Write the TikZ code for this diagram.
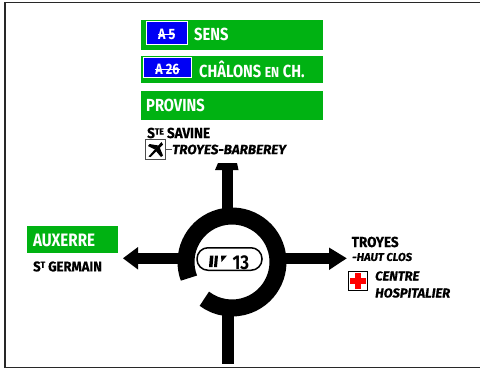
\documentclass[tikz,border=0pt]{standalone}
\usepackage{fontspec}
\setmainfont{Fira Sans}[BoldFeatures={FakeBold=0.5},BoldItalicFeatures={FakeBold=0.5}]
\newfontfamily\cfont[FakeStretch=0.84]{Fira Sans}
\newfontfamily\mfont[FakeStretch=0.93,BoldFeatures={FakeBold=0.5}]{Fira Sans}
\definecolor{signgreen}{RGB}{0,178,18}
\definecolor{signblue}{RGB}{0,0,245}
\definecolor{borderc}{RGB}{40,40,40}
\tikzset{
 x=1pt,y=-1pt,
 panel/.style={fill=signgreen,draw=none},
 lbl/.style={inner sep=0pt,anchor=west,font=\mfont\fontsize{14.5}{14.5}\selectfont\bfseries},
 wlbl/.style={inner sep=0pt,anchor=west,text=white,font=\cfont\fontsize{17.5}{17.5}\selectfont\bfseries},
 ital/.style={inner sep=0pt,anchor=west,font=\fontsize{13}{17}\selectfont\bfseries\itshape,align=left},
 motorway/.style={fill=signblue,draw=white,line width=0.9pt,inner sep=0pt},
 mtext/.style={text=white,inner sep=0pt,font=\cfont\fontsize{15}{15}\selectfont\bfseries},
 ring/.style={line width=17pt,draw=black,line cap=butt},
 road/.style={fill=black,draw=none},
}
\begin{document}
\begin{tikzpicture}
\useasboundingbox (0,0) rectangle (480,370);
\fill[white] (0,0) rectangle (480,370);
\draw[borderc,line width=1.5pt] (490,2.5) -- (5,2.5) -- (5,367.5) -- (490,367.5);
% green panels
\fill[panel] (141,20) rectangle (323,50);
\fill[panel] (141,56) rectangle (323,83);
\fill[panel] (141,91) rectangle (323,120);
\fill[panel] (27,226) rectangle (118,253);
\node[motorway,minimum width=41pt,minimum height=23pt] (a5) at (166.5,32.5) {};
\node[motorway,minimum width=48pt,minimum height=20pt] (a26) at (167.5,67.3) {};
\node[mtext] (a5t) at (166.7,34) {A 5};
\node[mtext] (a26t) at (167.5,69) {A 26};
\draw[white,line width=0.7pt] (a5t.west) -- (a5t.east);
\draw[white,line width=0.7pt] (a26t.west) -- (a26t.east);
\node[wlbl] (sens) at (194,34) {SENS};
\node[wlbl] (chal) at (199,69) {CHÂLONS {\fontsize{14.5}{14.5}\selectfont EN} CH.};
\node[wlbl] (prov) at (146,105.5) {PROVINS};
\node[wlbl,font=\cfont\fontsize{18}{18}\selectfont\bfseries] (aux) at (33,240) {AUXERRE};
% labels
\node[lbl] (sav) at (147,133) {S\raisebox{3.5pt}{\fontsize{9}{9}\selectfont TE} SAVINE};
\node[draw=black!70,line width=1pt,fill=white,minimum size=20pt,inner sep=0pt] (plane) at (155.5,149.5) {};
\begin{scope}[shift={(plane.center)}]
 \fill[black] (-7,7) -- (-5,7.5) -- (7.5,-5) -- (6,-7.5) -- cycle;
 \fill[black] (-7.5,-3.5) -- (-6,-5.5) -- (3,-4) -- (-0.5,0) -- cycle;
 \fill[black] (0.5,1.5) -- (5.5,7.5) -- (7.5,6) -- (4,-2.5) -- cycle;
\end{scope}
\node[ital,font=\fontsize{13.5}{13.5}\selectfont\bfseries\itshape] (bar) at (172,149.5) {TROYES-BARBEREY};
\draw[black!70,line width=0.6pt] (plane.east) -- (bar.west);
\node[lbl,font=\mfont\fontsize{14}{14}\selectfont\bfseries] (germ) at (33,266.5) {S\raisebox{3.5pt}{\fontsize{9}{9}\selectfont T} GERMAIN};
\node[lbl] (troy) at (351.5,242) {TROYES};
\node[ital,font=\fontsize{11.3}{11.3}\selectfont\bfseries\itshape] (haut) at (352,257) {-HAUT CLOS};
\node[ital] (centre) at (375,284.5) {CENTRE\\HOSPITALIER};
\node[draw=black,line width=1.2pt,fill=white,minimum size=19.5pt,inner sep=0pt] (cross) at (358,281) {};
\fill[red] (355,273) rectangle (361,288.5);
\fill[red] (350,278) rectangle (366,284.3);
% roads
\coordinate (c) at (232,262);
\fill[road] (221.7,215) rectangle (233.3,170);
\fill[road] (215,170) -- (218,163) -- (237,163) -- (238.5,170) -- cycle;
\fill[road] (222,305) rectangle (234,364);
\fill[road] (185,252.7) rectangle (138,264);
\fill[road] (138,247) -- (123,258.3) -- (138,269.5) -- cycle;
\fill[road] (280,252.7) rectangle (329,264);
\fill[road] (329,247.5) -- (346.7,258.3) -- (329,270) -- cycle;
% ring
\draw[ring] (c) ++(159.5:46) arc[start angle=159.5,end angle=487,radius=46];
% route plate
\node[draw=black,line width=1.5pt,fill=white,rounded corners=11pt,minimum width=65pt,minimum height=22.5pt,inner sep=0pt] (plate) at (229.5,259) {};
\fill[black] (210,255.5) -- (213.5,255.5) -- (212.5,267) -- (209,267) -- cycle;
\fill[black] (215,255.5) -- (218,255.5) -- (217,267) -- (214,267) -- cycle;
\fill[black] (221,255.5) -- (227,255.5) -- (221.5,262) -- cycle;
\node[inner sep=0pt,anchor=west,font=\cfont\fontsize{20}{20}\selectfont\bfseries] (num) at (232.5,262.5) {13};
\end{tikzpicture}
\end{document}
